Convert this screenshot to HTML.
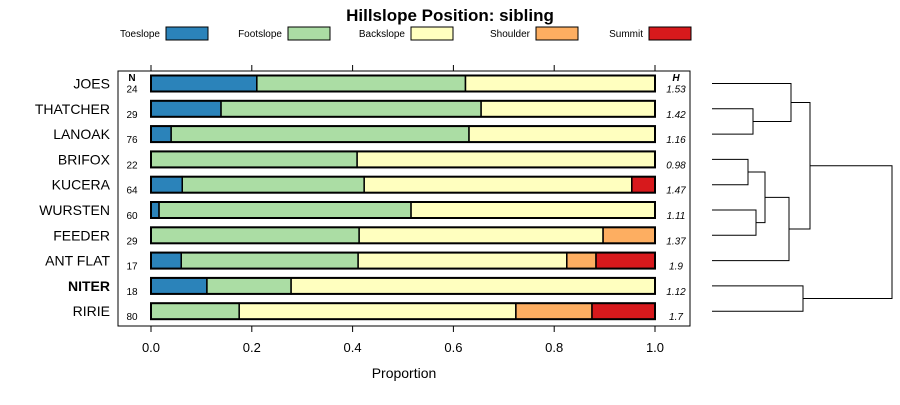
<!DOCTYPE html>
<html><head><meta charset="utf-8"><style>
body{margin:0;background:#fff;font-family:"Liberation Sans",sans-serif}
svg text{font-family:"Liberation Sans",sans-serif}
</style></head><body>
<svg id="c" width="900" height="400" xmlns="http://www.w3.org/2000/svg">
<text x="450" y="21" text-anchor="middle" font-size="17" font-weight="bold">Hillslope Position: sibling</text>
<g id="legend"></g>
<rect x="118" y="71" width="572" height="255" fill="none" stroke="#000" stroke-width="1"/>
<g id="bars"></g>
<g id="axis"></g>
<text x="404" y="378" text-anchor="middle" font-size="14">Proportion</text>
<g id="dendro" stroke="#000" stroke-width="1" fill="none"></g>
</svg>
<script>
const categories=["JOES","THATCHER","LANOAK","BRIFOX","KUCERA","WURSTEN","FEEDER","ANT FLAT","NITER","RIRIE"];
const nValues=[24,29,76,22,64,60,29,17,18,80];
const hValues=["1.53","1.42","1.16","0.98","1.47","1.11","1.37","1.9","1.12","1.7"];
const toeslope=[0.21,0.139,0.04,0,0.062,0.016,0,0.06,0.111,0];
const footslope=[0.414,0.516,0.591,0.409,0.361,0.5,0.413,0.351,0.167,0.175];
const backslope=[0.376,0.345,0.369,0.591,0.531,0.484,0.484,0.414,0.722,0.549];
const shoulder=[0,0,0,0,0,0,0.103,0.058,0,0.151];
const summit=[0,0,0,0,0.046,0,0,0.117,0,0.125];
const seriesNames=["Toeslope","Footslope","Backslope","Shoulder","Summit"];
const ticks=[0,0.2,0.4,0.6,0.8,1.0];
const tickLabels=["0.0","0.2","0.4","0.6","0.8","1.0"];
const colors=["#2b83ba","#abdda4","#ffffbf","#fdae61","#d7191c"];
const NS="http://www.w3.org/2000/svg";
const xs=v=>151+v*504;
const ys=i=>83.5+i*25.3;
function mk(tag,attrs,parent,txt){const e=document.createElementNS(NS,tag);for(const k in attrs)e.setAttribute(k,attrs[k]);if(txt!==undefined)e.textContent=txt;parent.appendChild(e);return e;}
const svg=document.getElementById('c');
// legend
const lg=document.getElementById('legend');
const lx=[160,282,405,530,643];
seriesNames.forEach((n,i)=>{
 const t=mk('text',{x:lx[i],y:37,'text-anchor':'end','font-size':10},lg,n);
 
 
 const r=mk('rect',{x:lx[i]+6,y:27,width:42,height:13,fill:colors[i],stroke:'#000','stroke-width':1},lg);
 
 
});
const series=[toeslope,footslope,backslope,shoulder,summit];
const bg=document.getElementById('bars');
mk('text',{x:132,y:81,'text-anchor':'middle','font-size':10,'font-weight':'bold'},bg,'N');
mk('text',{x:676,y:81,'text-anchor':'middle','font-size':10,'font-weight':'bold','font-style':'italic'},bg,'H');
categories.forEach((c,i)=>{
 const y=ys(i);
 const lab=mk('text',{x:110,y:y+5,'text-anchor':'end','font-size':14,'font-weight':c==='NITER'?'bold':'normal'},bg,c);
 
 
 mk('text',{x:132,y:y+9,'text-anchor':'middle','font-size':10},bg,nValues[i]);
 mk('text',{x:676,y:y+9,'text-anchor':'middle','font-size':10,'font-style':'italic'},bg,hValues[i]);
 let cum=0;
 series.forEach((s,j)=>{
  const v=s[i]; if(v<=0){return;}
  const r=mk('rect',{x:xs(cum),y:y-8,width:xs(cum+v)-xs(cum),height:16,fill:colors[j],stroke:'#000','stroke-width':1.5},bg);
  
  
  cum+=v;
 });
 const o=mk('rect',{x:xs(0),y:y-8,width:xs(1)-xs(0),height:16,fill:'none',stroke:'#000','stroke-width':2},bg);
});
const ax=document.getElementById('axis');
ticks.forEach((t,i)=>{
 mk('line',{x1:xs(t),x2:xs(t),y1:326,y2:332,stroke:'#000'},ax);
 mk('line',{x1:xs(t),x2:xs(t),y1:65,y2:71,stroke:'#000'},ax);
 const l=mk('text',{x:xs(t),y:352,'text-anchor':'middle','font-size':13},ax,tickLabels[i]);
 
 
});
// dendrogram
const dg=document.getElementById('dendro');
const L=712;
function seg(pts){mk('polyline',{points:pts.map(p=>p.join(',')).join(' ')},dg);}
const Y=ys;
// THATCHER-LANOAK
seg([[L,Y(1)],[753,Y(1)],[753,Y(2)],[L,Y(2)]]);
const m12=(Y(1)+Y(2))/2;
seg([[L,Y(0)],[791,Y(0)],[791,m12],[753,m12]]);
const mA=(Y(0)+m12)/2;
seg([[L,Y(3)],[748,Y(3)],[748,Y(4)],[L,Y(4)]]);
const m34=(Y(3)+Y(4))/2;
seg([[L,Y(5)],[756,Y(5)],[756,Y(6)],[L,Y(6)]]);
const m56=(Y(5)+Y(6))/2;
seg([[748,m34],[765,m34],[765,m56],[756,m56]]);
const mB=(m34+m56)/2;
seg([[765,mB],[789,mB],[789,Y(7)],[L,Y(7)]]);
const mC=(mB+Y(7))/2;
seg([[791,mA],[810,mA],[810,mC],[789,mC]]);
const mD=(mA+mC)/2;
seg([[L,Y(8)],[803,Y(8)],[803,Y(9)],[L,Y(9)]]);
const m89=(Y(8)+Y(9))/2;
seg([[810,mD],[892,mD],[892,m89],[803,m89]]);
</script>
</body></html>
